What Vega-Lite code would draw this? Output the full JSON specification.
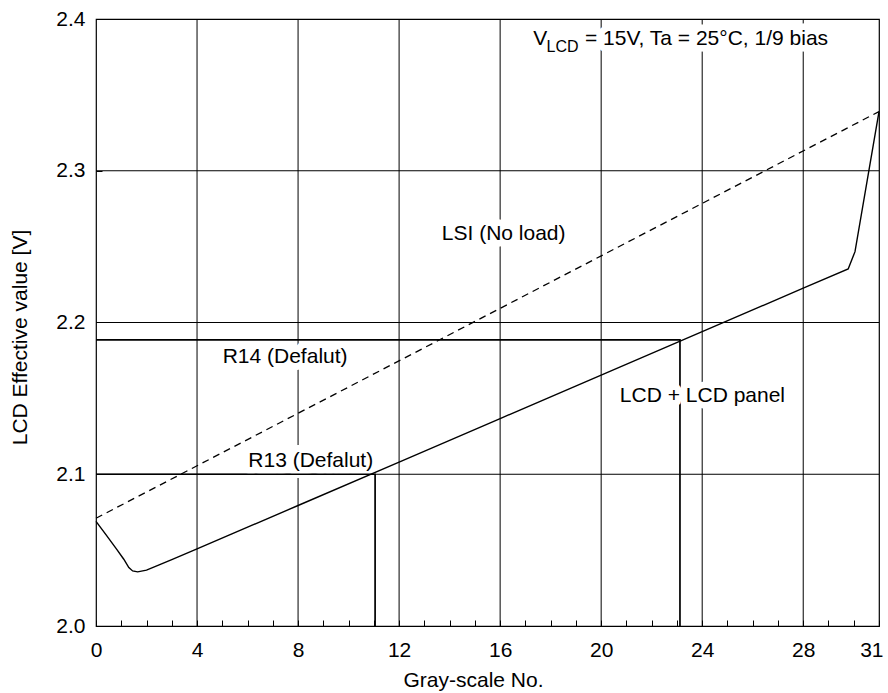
{
  "$schema": "https://vega.github.io/schema/vega-lite/v6.json",
  "width": 783,
  "height": 607,
  "autosize": {"type": "none"},
  "padding": {"left": 96, "top": 19, "right": 9, "bottom": 67},
  "background": "white",
  "config": {
    "view": {"stroke": "#000", "strokeWidth": 1.2},
    "font": "Liberation Sans",
    "axis": {
      "grid": false,
      "domain": false,
      "tickColor": "#000",
      "tickSize": -6,
      "tickWidth": 1,
      "labelFont": "Liberation Sans",
      "labelFontSize": 21,
      "labelColor": "#000",
      "labelFlush": false,
      "labelOverlap": false,
      "titleFont": "Liberation Sans",
      "titleFontSize": 21,
      "titleFontWeight": "normal",
      "titleColor": "#000"
    },
    "axisX": {"labelPadding": 19, "titleX": 377, "titleY": 60, "titleBaseline": "alphabetic", "titleAlign": "center", "titleAnchor": null},
    "axisY": {"labelPadding": 17, "titleX": -70, "titleY": 318, "titleBaseline": "alphabetic", "titleAlign": "center", "titleAnchor": null, "titleAngle": -90}
  },
  "resolve": {"axis": {"x": "independent"}},
  "datasets": {
    "gridx": [{"gray": 4}, {"gray": 8}, {"gray": 12}, {"gray": 16}, {"gray": 20}, {"gray": 24}, {"gray": 28}],
    "gridy": [{"v": 2.1}, {"v": 2.2}, {"v": 2.3}],
    "lsi": [{"gray": 0, "v": 2.071}, {"gray": 31, "v": 2.339}],
    "lcd": [
      {"gray": 0, "v": 2.069},
      {"gray": 0.4, "v": 2.06},
      {"gray": 0.8, "v": 2.051},
      {"gray": 1.1, "v": 2.044},
      {"gray": 1.3, "v": 2.0385},
      {"gray": 1.45, "v": 2.0363},
      {"gray": 1.65, "v": 2.0357},
      {"gray": 2.0, "v": 2.0368},
      {"gray": 2.5, "v": 2.0403},
      {"gray": 3.0, "v": 2.0438},
      {"gray": 4, "v": 2.0508},
      {"gray": 8, "v": 2.0794},
      {"gray": 12, "v": 2.108},
      {"gray": 16, "v": 2.1367},
      {"gray": 20, "v": 2.1653},
      {"gray": 24, "v": 2.194},
      {"gray": 28, "v": 2.2226},
      {"gray": 29.78, "v": 2.2353},
      {"gray": 30.05, "v": 2.2467},
      {"gray": 31, "v": 2.339}
    ],
    "refs": [
      {"line": "R13", "step": 1, "gray": 0, "v": 2.1},
      {"line": "R13", "step": 2, "gray": 11.05, "v": 2.1},
      {"line": "R13", "step": 3, "gray": 11.05, "v": 2.0},
      {"line": "R14", "step": 1, "gray": 0, "v": 2.1885},
      {"line": "R14", "step": 2, "gray": 23.12, "v": 2.1885},
      {"line": "R14", "step": 3, "gray": 23.12, "v": 2.0}
    ],
    "labels": [
      {"label": "V", "kind": "header", "gray": 17.31, "v": 2.3829},
      {"label": "LCD", "kind": "sub", "gray": 17.84, "v": 2.3785},
      {"label": "= 15V, Ta = 25°C, 1/9 bias", "kind": "header", "gray": 19.36, "v": 2.3829},
      {"label": "LSI (No load)", "kind": "note", "gray": 13.69, "v": 2.2544},
      {"label": "R14 (Defalut)", "kind": "ref", "gray": 5.015, "v": 2.1731},
      {"label": "R13 (Defalut)", "kind": "ref", "gray": 6.03, "v": 2.1046},
      {"label": "LCD + LCD panel", "kind": "note", "gray": 20.74, "v": 2.1478}
    ]
  },
  "layer": [
    {
      "data": {"name": "gridx"},
      "mark": {"type": "rule", "color": "#000", "strokeWidth": 1},
      "encoding": {
        "x": {"field": "gray", "type": "quantitative", "scale": {"domain": [0, 31], "nice": false, "zero": false},
              "axis": {"title": "Gray-scale No.", "orient": "bottom", "values": [0, 4, 8, 12, 16, 20, 24, 28, 31],
                       "labelOverlap": false, "labelFlush": false, "labelBound": false, "format": "d",
                       "labelAlign": {"condition": {"test": "datum.value == 31", "value": "right"}, "value": "center"},
                       "labelOffset": {"condition": {"test": "datum.value == 31", "value": 4}, "value": 0}}}
      }
    },
    {
      "data": {"name": "gridy"},
      "mark": {"type": "rule", "color": "#000", "strokeWidth": 1},
      "encoding": {
        "y": {"field": "v", "type": "quantitative", "scale": {"domain": [2.0, 2.4], "nice": false, "zero": false},
              "axis": {"title": "LCD Effective value [V]", "values": [2.0, 2.1, 2.2, 2.3, 2.4], "format": ".1f", "labelOverlap": false, "labelFlush": false}}
      }
    },
    {
      "data": {"name": "labels"},
      "transform": [{"filter": "datum.kind == 'ref'"}],
      "mark": {"type": "text", "align": "left", "baseline": "alphabetic", "fontSize": 21, "font": "Liberation Sans", "fill": "white", "stroke": "white", "strokeWidth": 14, "strokeJoin": "round", "strokeCap": "round"},
      "encoding": {
        "x": {"field": "gray", "type": "quantitative", "scale": {"domain": [0, 31], "nice": false, "zero": false}, "axis": null},
        "y": {"field": "v", "type": "quantitative", "scale": {"domain": [2.0, 2.4], "nice": false, "zero": false}},
        "text": {"field": "label"}
      }
    },
    {
      "data": {"name": "lsi"},
      "mark": {"type": "line", "color": "#000", "strokeWidth": 1.3, "strokeDash": [7, 5]},
      "encoding": {
        "x": {"field": "gray", "type": "quantitative", "scale": {"domain": [0, 31], "nice": false, "zero": false}, "axis": null},
        "y": {"field": "v", "type": "quantitative", "scale": {"domain": [2.0, 2.4], "nice": false, "zero": false}}
      }
    },
    {
      "data": {"name": "lcd"},
      "mark": {"type": "line", "color": "#000", "strokeWidth": 1.4},
      "encoding": {
        "x": {"field": "gray", "type": "quantitative", "scale": {"domain": [0, 31], "nice": false, "zero": false},
              "axis": {"title": null, "orient": "bottom", "labels": false, "values": [1,2,3,5,6,7,9,10,11,13,14,15,17,18,19,21,22,23,25,26,27,29,30]}},
        "y": {"field": "v", "type": "quantitative", "scale": {"domain": [2.0, 2.4], "nice": false, "zero": false}}
      }
    },
    {
      "data": {"name": "refs"},
      "mark": {"type": "line", "color": "#000", "strokeWidth": 1.7},
      "encoding": {
        "x": {"field": "gray", "type": "quantitative", "scale": {"domain": [0, 31], "nice": false, "zero": false}, "axis": null},
        "y": {"field": "v", "type": "quantitative", "scale": {"domain": [2.0, 2.4], "nice": false, "zero": false}},
        "detail": {"field": "line"},
        "order": {"field": "step"}
      }
    },
    {
      "data": {"name": "labels"},
      "transform": [{"filter": "datum.kind == 'header' || datum.kind == 'note'"}],
      "mark": {"type": "text", "align": "left", "baseline": "alphabetic", "fontSize": 21, "font": "Liberation Sans", "fill": "white", "stroke": "white", "strokeWidth": 13, "strokeJoin": "round", "strokeCap": "round"},
      "encoding": {
        "x": {"field": "gray", "type": "quantitative", "scale": {"domain": [0, 31], "nice": false, "zero": false}, "axis": null},
        "y": {"field": "v", "type": "quantitative", "scale": {"domain": [2.0, 2.4], "nice": false, "zero": false}},
        "text": {"field": "label"}
      }
    },
    {
      "data": {"name": "labels"},
      "transform": [{"filter": "datum.kind == 'sub'"}],
      "mark": {"type": "text", "align": "left", "baseline": "alphabetic", "fontSize": 16, "font": "Liberation Sans", "fill": "white", "stroke": "white", "strokeWidth": 13, "strokeJoin": "round", "strokeCap": "round"},
      "encoding": {
        "x": {"field": "gray", "type": "quantitative", "scale": {"domain": [0, 31], "nice": false, "zero": false}, "axis": null},
        "y": {"field": "v", "type": "quantitative", "scale": {"domain": [2.0, 2.4], "nice": false, "zero": false}},
        "text": {"field": "label"}
      }
    },
    {
      "data": {"name": "labels"},
      "transform": [{"filter": "datum.kind != 'sub'"}],
      "mark": {"type": "text", "align": "left", "baseline": "alphabetic", "fontSize": 21, "font": "Liberation Sans", "color": "#000"},
      "encoding": {
        "x": {"field": "gray", "type": "quantitative", "scale": {"domain": [0, 31], "nice": false, "zero": false}, "axis": null},
        "y": {"field": "v", "type": "quantitative", "scale": {"domain": [2.0, 2.4], "nice": false, "zero": false}},
        "text": {"field": "label"}
      }
    },
    {
      "data": {"name": "labels"},
      "transform": [{"filter": "datum.kind == 'sub'"}],
      "mark": {"type": "text", "align": "left", "baseline": "alphabetic", "fontSize": 16, "font": "Liberation Sans", "color": "#000"},
      "encoding": {
        "x": {"field": "gray", "type": "quantitative", "scale": {"domain": [0, 31], "nice": false, "zero": false}, "axis": null},
        "y": {"field": "v", "type": "quantitative", "scale": {"domain": [2.0, 2.4], "nice": false, "zero": false}},
        "text": {"field": "label"}
      }
    }
  ]
}
